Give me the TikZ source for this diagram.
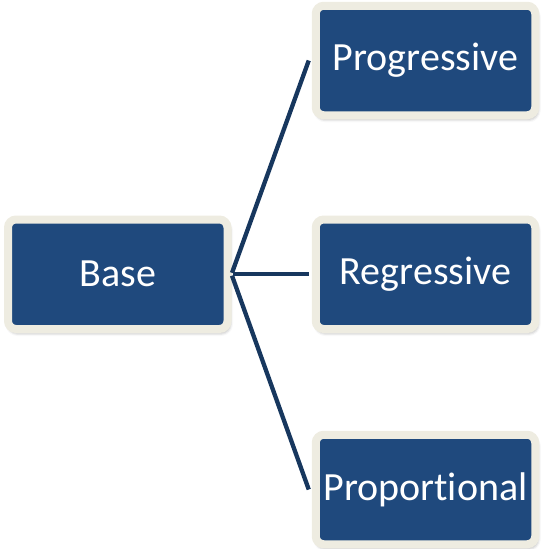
\documentclass[tikz,border=0pt]{standalone}
\usepackage{fontspec}
\setmainfont{Carlito}[Ligatures=NoCommon]
\usetikzlibrary{shadows.blur}
\definecolor{boxblue}{RGB}{31,73,125}
\definecolor{boxrim}{RGB}{238,236,225}
\definecolor{linkblue}{RGB}{23,55,94}
\tikzset{
  itembox/.style={
    draw=boxrim, fill=boxblue, line width=8pt, rounded corners=8pt,
    minimum width=219.5pt, minimum height=109.5pt, inner sep=0pt,
    text=white, font=\fontsize{40}{48}\selectfont,
    blur shadow={shadow xshift=1.5pt, shadow yshift=-3pt,
                 shadow blur radius=4pt, shadow opacity=45}
  },
  link/.style={draw=linkblue, line width=4.3pt}
}
\begin{document}
\begin{tikzpicture}[x=1pt,y=-1pt]
  \useasboundingbox (0,0) rectangle (541,549);
  % boxes
  \node[itembox] (base) at (117.75,274.25) {Base};
  \node[itembox] (prog) at (425.5,60.5) {Progressive};
  \node[itembox] (regr) at (425.5,274.25) {Regressive};
  \node[itembox] (prop) at (425.5,489.5) {Proportional};
  % connectors fan out from the parent box and stop at each child's rim
  \draw[link, shorten <=1.5pt] (base.east) -- ([xshift=-3pt]prog.west);
  \draw[link, shorten <=1.5pt] (base.east) -- ([xshift=-3pt]regr.west);
  \draw[link, shorten <=1.5pt] (base.east) -- ([xshift=-3pt]prop.west);
\end{tikzpicture}
\end{document}
